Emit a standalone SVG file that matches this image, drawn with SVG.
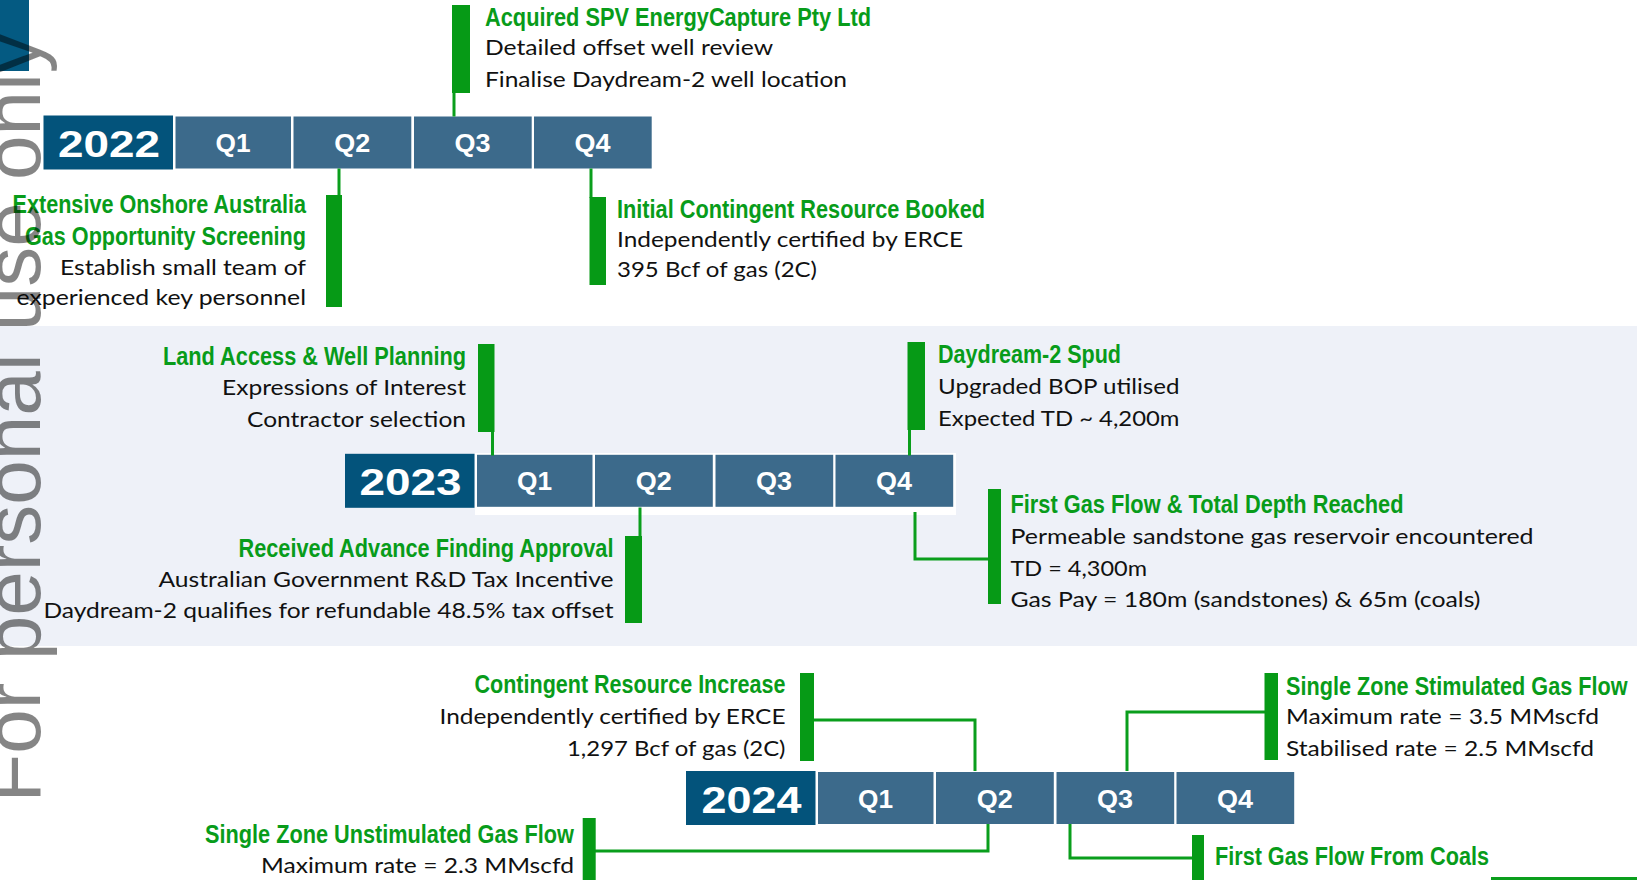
<svg xmlns="http://www.w3.org/2000/svg" width="1637" height="880" viewBox="0 0 1637 880">
<style>
.yr{fill:#03537B}
.q{fill:#3C6A8B}
.wh{fill:#FFFFFF}
.yt{font-family:"Liberation Sans",Arial,sans-serif;font-weight:bold;font-size:37px;fill:#FFFFFF;text-anchor:middle}
.qt{font-family:"Liberation Sans",Arial,sans-serif;font-weight:bold;font-size:26px;fill:#FFFFFF;text-anchor:middle}
.h{font-family:"Liberation Sans Narrow","Liberation Sans",Arial,sans-serif;font-weight:bold;font-size:25px;fill:#089C1A}
.b{font-family:Lato,"Open Sans","Liberation Sans",sans-serif;font-size:21px;fill:#111111}
.e{text-anchor:end}
.bar{fill:#069A16}
.ln{fill:none;stroke:#0A9E1C;stroke-width:3}
.wm{font-family:"Liberation Sans",Arial,sans-serif;font-size:80px;fill:#000000;fill-opacity:0.48}
</style>
<defs>
<g id="tl">
<rect class="wh" x="173.5" y="114.7" width="481" height="62"/>
<rect class="yr" x="43.5" y="115.5" width="129.5" height="54"/>
<rect class="q" x="175.5" y="116.5" width="115.5" height="52"/>
<rect class="q" x="293.5" y="116.5" width="117.8" height="52"/>
<rect class="q" x="414" y="116.5" width="117.7" height="52"/>
<rect class="q" x="534" y="116.5" width="117.7" height="52"/>
<text class="qt" x="233" y="152" textLength="35" lengthAdjust="spacingAndGlyphs">Q1</text>
<text class="qt" x="352.3" y="152" textLength="36" lengthAdjust="spacingAndGlyphs">Q2</text>
<text class="qt" x="472.5" y="152" textLength="36" lengthAdjust="spacingAndGlyphs">Q3</text>
<text class="qt" x="592.5" y="152" textLength="36" lengthAdjust="spacingAndGlyphs">Q4</text>
</g>
</defs>
<rect x="0" y="0" width="1637" height="880" fill="#FFFFFF"/>
<rect id="band-2023" x="0" y="326" width="1637" height="320" fill="#EEF1F8"/>
<rect id="corner" x="0" y="0" width="29" height="71" fill="#045A82"/>

<g id="timeline-2022">
<use href="#tl"/>
<text class="yt" x="109" y="157" textLength="102" lengthAdjust="spacingAndGlyphs">2022</text>
</g>
<g id="timeline-2023" transform="translate(301.5,338.3)">
<use href="#tl"/>
<text class="yt" x="109" y="157" textLength="102" lengthAdjust="spacingAndGlyphs">2023</text>
</g>
<g id="timeline-2024" transform="translate(642.5,655.5)">
<use href="#tl"/>
<text class="yt" x="109" y="157" textLength="100" lengthAdjust="spacingAndGlyphs">2024</text>
</g>

<g id="connectors">
<line class="ln" x1="454" y1="92" x2="454" y2="116.5"/>
<line class="ln" x1="339" y1="168.5" x2="339" y2="196"/>
<line class="ln" x1="591" y1="168.5" x2="591" y2="198"/>
<line class="ln" x1="492.5" y1="431" x2="492.5" y2="455.5"/>
<line class="ln" x1="640" y1="507.5" x2="640" y2="537"/>
<line class="ln" x1="909.5" y1="429" x2="909.5" y2="455.5"/>
<polyline class="ln" points="915,512 915,559 989,559"/>
<polyline class="ln" points="813,720 975,720 975,771"/>
<polyline class="ln" points="988,824 988,851 595,851"/>
<polyline class="ln" points="1127,771 1127,712 1265,712"/>
<polyline class="ln" points="1070,824 1070,858 1193,858"/>
<line class="ln" x1="1491" y1="878.5" x2="1637" y2="878.5"/>
</g>

<g id="m-acquired">
<rect class="bar" x="452" y="5" width="18" height="88"/>
<text class="h" x="485" y="26" textLength="386" lengthAdjust="spacingAndGlyphs">Acquired SPV EnergyCapture Pty Ltd</text>
<text class="b" x="485" y="55" textLength="288" lengthAdjust="spacingAndGlyphs">Detailed offset well review</text>
<text class="b" x="485" y="87" textLength="362" lengthAdjust="spacingAndGlyphs">Finalise Daydream-2 well location</text>
</g>
<g id="m-screening">
<rect class="bar" x="326" y="195" width="16" height="112"/>
<text class="h e" x="306" y="213" textLength="293.5" lengthAdjust="spacingAndGlyphs">Extensive Onshore Australia</text>
<text class="h e" x="306" y="245" textLength="281" lengthAdjust="spacingAndGlyphs">Gas Opportunity Screening</text>
<text class="b e" x="306" y="275" textLength="246" lengthAdjust="spacingAndGlyphs">Establish small team of</text>
<text class="b e" x="306" y="305" textLength="289.5" lengthAdjust="spacingAndGlyphs">experienced key personnel</text>
</g>
<g id="m-initial">
<rect class="bar" x="589.5" y="197" width="16.5" height="88"/>
<text class="h" x="617" y="218" textLength="368" lengthAdjust="spacingAndGlyphs">Initial Contingent Resource Booked</text>
<text class="b" x="617" y="247" textLength="346" lengthAdjust="spacingAndGlyphs">Independently certified by ERCE</text>
<text class="b" x="617" y="277" textLength="200" lengthAdjust="spacingAndGlyphs">395 Bcf of gas (2C)</text>
</g>
<g id="m-land">
<rect class="bar" x="478" y="344" width="16.5" height="88"/>
<text class="h e" x="466" y="365" textLength="303" lengthAdjust="spacingAndGlyphs">Land Access &amp; Well Planning</text>
<text class="b e" x="466" y="395" textLength="244" lengthAdjust="spacingAndGlyphs">Expressions of Interest</text>
<text class="b e" x="466" y="427" textLength="219" lengthAdjust="spacingAndGlyphs">Contractor selection</text>
</g>
<g id="m-received">
<rect class="bar" x="625" y="536" width="17" height="87"/>
<text class="h e" x="613.5" y="557" textLength="375" lengthAdjust="spacingAndGlyphs">Received Advance Finding Approval</text>
<text class="b e" x="613.5" y="587" textLength="455" lengthAdjust="spacingAndGlyphs">Australian Government R&amp;D Tax Incentive</text>
<text class="b e" x="613.5" y="618" textLength="570" lengthAdjust="spacingAndGlyphs">Daydream-2 qualifies for refundable 48.5% tax offset</text>
</g>
<g id="m-spud">
<rect class="bar" x="907.5" y="342" width="17.5" height="88"/>
<text class="h" x="938" y="363" textLength="183" lengthAdjust="spacingAndGlyphs">Daydream-2 Spud</text>
<text class="b" x="938" y="394" textLength="241.5" lengthAdjust="spacingAndGlyphs">Upgraded BOP utilised</text>
<text class="b" x="938" y="426" textLength="241.5" lengthAdjust="spacingAndGlyphs">Expected TD ~ 4,200m</text>
</g>
<g id="m-firstgas">
<rect class="bar" x="988" y="489" width="13" height="115"/>
<text class="h" x="1010.5" y="513" textLength="393" lengthAdjust="spacingAndGlyphs">First Gas Flow &amp; Total Depth Reached</text>
<text class="b" x="1010.5" y="544" textLength="523" lengthAdjust="spacingAndGlyphs">Permeable sandstone gas reservoir encountered</text>
<text class="b" x="1010.5" y="576" textLength="136.5" lengthAdjust="spacingAndGlyphs">TD = 4,300m</text>
<text class="b" x="1010.5" y="607" textLength="470" lengthAdjust="spacingAndGlyphs">Gas Pay = 180m (sandstones) &amp; 65m (coals)</text>
</g>
<g id="m-contingent">
<rect class="bar" x="800" y="673" width="14" height="88"/>
<text class="h e" x="785.5" y="693" textLength="311" lengthAdjust="spacingAndGlyphs">Contingent Resource Increase</text>
<text class="b e" x="785.5" y="724" textLength="346" lengthAdjust="spacingAndGlyphs">Independently certified by ERCE</text>
<text class="b e" x="785.5" y="756" textLength="218.5" lengthAdjust="spacingAndGlyphs">1,297 Bcf of gas (2C)</text>
</g>
<g id="m-unstimulated">
<rect class="bar" x="582.7" y="818" width="13" height="62"/>
<text class="h e" x="574" y="843" textLength="369" lengthAdjust="spacingAndGlyphs">Single Zone Unstimulated Gas Flow</text>
<text class="b e" x="574" y="873" textLength="313" lengthAdjust="spacingAndGlyphs">Maximum rate = 2.3 MMscfd</text>
</g>
<g id="m-stimulated">
<rect class="bar" x="1264.5" y="673" width="13.5" height="87"/>
<text class="h" x="1286" y="695" textLength="341.5" lengthAdjust="spacingAndGlyphs">Single Zone Stimulated Gas Flow</text>
<text class="b" x="1286" y="724" textLength="313" lengthAdjust="spacingAndGlyphs">Maximum rate = 3.5 MMscfd</text>
<text class="b" x="1286" y="756" textLength="308" lengthAdjust="spacingAndGlyphs">Stabilised rate = 2.5 MMscfd</text>
</g>
<g id="m-coals">
<rect class="bar" x="1192" y="835" width="12" height="45"/>
<text class="h" x="1215" y="865" textLength="274" lengthAdjust="spacingAndGlyphs">First Gas Flow From Coals</text>
</g>

<text class="wm" transform="translate(40,802.5) rotate(-90)" x="0" y="0">For personal use only</text>
</svg>
